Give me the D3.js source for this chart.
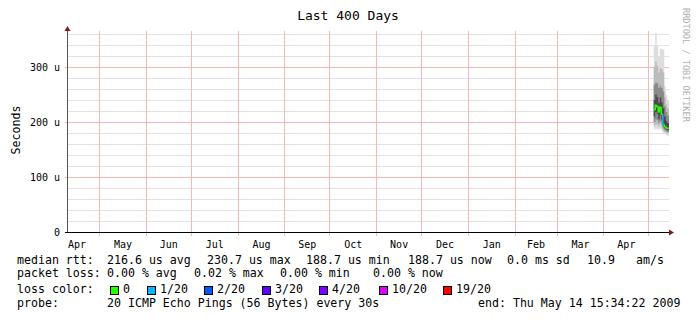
<!DOCTYPE html>
<html>
<head>
<meta charset="utf-8">
<script src="https://cdn.jsdelivr.net/npm/d3@7"></script>
<style>
  html, body { margin: 0; padding: 0; background: #fff; }
  svg { display: block; font-family: "DejaVu Sans Mono", monospace; }
</style>
</head>
<body>
<svg id="chart" width="697" height="321"></svg>
<script>
// ---- data ----
const startTime = new Date(2008, 3, 9, 15, 34, 22);
const endTime = new Date(2009, 4, 14, 15, 34, 22);

// one column per day (noon), last column runs to endTime
const sampleDays = ['2009-05-04', '2009-05-05', '2009-05-06', '2009-05-07', '2009-05-08',
  '2009-05-09', '2009-05-10', '2009-05-11', '2009-05-12', '2009-05-13'];
const medianRtt = [222, 230.7, 228, 218, 227, 214, 196, 192, 189.5, 188.7];
const lossCount = [0, 0, 0, 0, 0, 0, 1, 0, 0, 0];

// smoke: spread of the 20 pings per column (us)
const pingMax = [338, 362, 338, 318, 333, 333, 332, 265, 250, 240];
const pingP90 = [300, 310, 302, 290, 298, 296, 290, 245, 232, 225];
const pingP75 = [268, 272, 270, 262, 266, 262, 255, 228, 218, 212];
const pingP60 = [240, 250, 245, 235, 245, 236, 225, 210, 202, 198];
const pingP40 = [210, 218, 215, 205, 212, 204, 192, 188, 186, 185];
const pingP25 = [200, 205, 203, 198, 202, 197, 188, 185, 183, 182];
const pingP10 = [193, 196, 195, 192, 195, 190, 184, 182, 180, 179];
const pingMin = [186, 188, 187, 186, 188, 184, 180, 178, 176, 175];

const yTickValues = [0, 100, 200, 300];
const yTickLabels = ['0', '100 u', '200 u', '300 u'];
const yMaxValue = 365.5;

const lossLabels = ['0', '1/20', '2/20', '3/20', '4/20', '10/20', '19/20'];
const lossColors = ['#26ff00', '#00b8ff', '#0059ff', '#5e00ff', '#7e00ff', '#dd00ff', '#ff0000'];

const titleText = 'Last 400 Days';
const yTitle = 'Seconds';
const watermark = 'RRDTOOL / TOBI OETIKER';
const medianItems = ['216.6 us avg', '230.7 us max', '188.7 us min', '188.7 us now', '0.0 ms sd', '10.9', 'am/s'];
const lossItems = ['0.00 % avg', '0.02 % max', '0.00 % min', '0.00 % now'];
const probeText = '20 ICMP Echo Pings (56 Bytes) every 30s';
const endText = 'end: Thu May 14 15:34:22 2009';

// ---- layout ----
const plot = { left: 67, right: 669, top: 31, bottom: 232 };
const legendFont = 11.6;
const axisFont = 10;

const svg = d3.select('#chart');
svg.append('rect').attr('width', 697).attr('height', 321).attr('fill', '#fff');

const x = d3.scaleTime().domain([startTime, endTime]).range([plot.left, plot.right]);
const y = d3.scaleLinear().domain([0, yMaxValue]).range([plot.bottom, plot.top]);

// minor horizontal grid
const grid = svg.append('g');
grid.selectAll('.minor')
  .data(y.ticks(18).filter((v) => yTickValues.indexOf(v) < 0))
  .enter().append('line')
  .attr('x1', plot.left).attr('x2', plot.right)
  .attr('y1', (d) => Math.round(y(d)) + 0.5).attr('y2', (d) => Math.round(y(d)) + 0.5)
  .attr('stroke', '#e2e2e2');

// major horizontal grid
grid.selectAll('.major')
  .data(yTickValues.slice(1))
  .enter().append('line')
  .attr('x1', plot.left - 2).attr('x2', plot.right)
  .attr('y1', (d) => Math.round(y(d)) + 0.5).attr('y2', (d) => Math.round(y(d)) + 0.5)
  .attr('stroke', '#f4b8b8');

// month lines
const monthStarts = x.ticks(d3.timeMonth.every(1));
grid.selectAll('.month')
  .data(monthStarts)
  .enter().append('line')
  .attr('x1', (d) => Math.round(x(d)) + 0.5).attr('x2', (d) => Math.round(x(d)) + 0.5)
  .attr('y1', plot.top).attr('y2', plot.bottom + 4)
  .attr('stroke', '#f4b8b8');

// ---- smoke ----
const rows = sampleDays.map((d, i) => ({
  date: d3.timeParse('%Y-%m-%d')(d),
  i: i
}));
rows.forEach((r) => r.date.setHours(12));
const stepRows = rows.concat([{ date: endTime, i: rows.length - 1 }]);

const bands = [
  { lo: pingMin, hi: pingMax, color: '#dddddd' },
  { lo: pingP10, hi: pingP90, color: '#bcbcbc' },
  { lo: pingP25, hi: pingP75, color: '#8a8a8a' },
  { lo: pingP40, hi: pingP60, color: '#4a4a4a' }
];
const smoke = svg.append('g');
bands.forEach((b) => {
  const area = d3.area()
    .curve(d3.curveStepAfter)
    .x((d) => x(d.date))
    .y0((d) => y(b.lo[d.i]))
    .y1((d) => y(b.hi[d.i]));
  smoke.append('path').attr('d', area(stepRows)).attr('fill', b.color);
});

// median line, coloured by loss
const lossIndex = (n) => {
  const steps = [0, 1, 2, 3, 4, 10, 19];
  let k = 0;
  steps.forEach((s, j) => { if (n >= s) k = j; });
  return k;
};
const medLine = d3.line().x((d) => x(d.date)).y((d) => y(d.v));
rows.forEach((r, i) => {
  const prev = i > 0 ? medianRtt[i - 1] : medianRtt[i];
  const pts = [
    { date: r.date, v: prev },
    { date: r.date, v: medianRtt[i] },
    { date: stepRows[i + 1].date, v: medianRtt[i] }
  ];
  svg.append('path')
    .attr('d', medLine(pts))
    .attr('fill', 'none')
    .attr('stroke', lossColors[lossIndex(lossCount[i])])
    .attr('stroke-width', 1.5);
});

// ---- axes ----
svg.append('line')
  .attr('x1', plot.left + 0.5).attr('x2', plot.left + 0.5)
  .attr('y1', plot.bottom).attr('y2', plot.top - 2)
  .attr('stroke', '#555');
svg.append('line')
  .attr('x1', plot.left - 2).attr('x2', plot.right + 1)
  .attr('y1', plot.bottom + 0.5).attr('y2', plot.bottom + 0.5)
  .attr('stroke', '#000');
svg.append('path')
  .attr('d', `M${plot.left - 2.5},${plot.top} L${plot.left + 0.5},${plot.top - 5} L${plot.left + 3.5},${plot.top} Z`)
  .attr('fill', '#8e1414');
svg.append('path')
  .attr('d', `M${plot.right},${plot.bottom - 2.5} L${plot.right + 5},${plot.bottom + 0.5} L${plot.right},${plot.bottom + 3.5} Z`)
  .attr('fill', '#8e1414');

const yAxis = d3.axisLeft(y)
  .tickValues(yTickValues)
  .tickFormat((d, i) => yTickLabels[i])
  .tickSize(0)
  .tickPadding(7);
const gy = svg.append('g').attr('transform', `translate(${plot.left},0)`).call(yAxis);
gy.select('.domain').remove();
gy.selectAll('text')
  .attr('font-family', 'DejaVu Sans Mono')
  .attr('font-size', axisFont)
  .attr('fill', '#000')
  .attr('dy', '0.35em');

const monthMids = monthStarts.concat([d3.timeMonth.offset(monthStarts[monthStarts.length - 1], 1)])
  .map((d) => d3.timeMonth.offset(d, -1))
  .map((d) => new Date((d.getTime() + d3.timeMonth.offset(d, 1).getTime()) / 2))
  .filter((d) => x(d) >= plot.left && x(d) <= plot.right && d <= endTime);
const xAxis = d3.axisBottom(x)
  .tickValues(monthMids)
  .tickFormat(d3.timeFormat('%b'))
  .tickSize(0)
  .tickPadding(0);
const gx = svg.append('g').attr('transform', `translate(0,${plot.bottom})`).call(xAxis);
gx.select('.domain').remove();
gx.selectAll('text')
  .attr('font-family', 'DejaVu Sans Mono')
  .attr('font-size', axisFont)
  .attr('fill', '#000')
  .attr('y', 15.5)
  .attr('dy', 0);

// ---- titles ----
svg.append('text')
  .attr('x', 348).attr('y', 20)
  .attr('text-anchor', 'middle')
  .attr('font-size', 13)
  .text(titleText);

svg.append('text')
  .attr('transform', 'translate(19.5,130) rotate(-90)')
  .attr('text-anchor', 'middle')
  .attr('font-size', 11.6)
  .text(yTitle);

svg.append('text')
  .attr('transform', 'translate(683,8) rotate(90)')
  .attr('font-size', 8.6)
  .attr('fill', '#b0b0b0')
  .text(watermark);

// ---- legend ----
const legend = svg.append('g').attr('font-size', legendFont).attr('fill', '#000');
const line1 = 264, line2 = 277, line3 = 293, line4 = 307;
const medianX = [107, 207, 306, 408, 507, 587, 636];
const lossX = [107, 194, 280, 373];
const boxX = [110, 147, 204, 262, 319, 379, 443];

legend.append('text').attr('x', 17).attr('y', line1).text('median rtt:');
legend.selectAll('.med').data(medianItems).enter().append('text')
  .attr('x', (d, i) => medianX[i]).attr('y', line1).text((d) => d);

legend.append('text').attr('x', 17).attr('y', line2).text('packet loss:');
legend.selectAll('.loss').data(lossItems).enter().append('text')
  .attr('x', (d, i) => lossX[i]).attr('y', line2).text((d) => d);

legend.append('text').attr('x', 17).attr('y', line3).text('loss color:');
const items = legend.selectAll('.lc').data(lossLabels).enter().append('g');
items.append('rect')
  .attr('x', (d, i) => boxX[i] + 0.5).attr('y', line3 - 6.5)
  .attr('width', 8).attr('height', 8)
  .attr('fill', (d, i) => lossColors[i])
  .attr('stroke', '#000');
items.append('text')
  .attr('x', (d, i) => boxX[i] + 13).attr('y', line3)
  .text((d) => d);

legend.append('text').attr('x', 17).attr('y', line4).text('probe:');
legend.append('text').attr('x', 107).attr('y', line4).text(probeText);
legend.append('text').attr('x', 478).attr('y', line4).text(endText);
</script>
</body>
</html>
